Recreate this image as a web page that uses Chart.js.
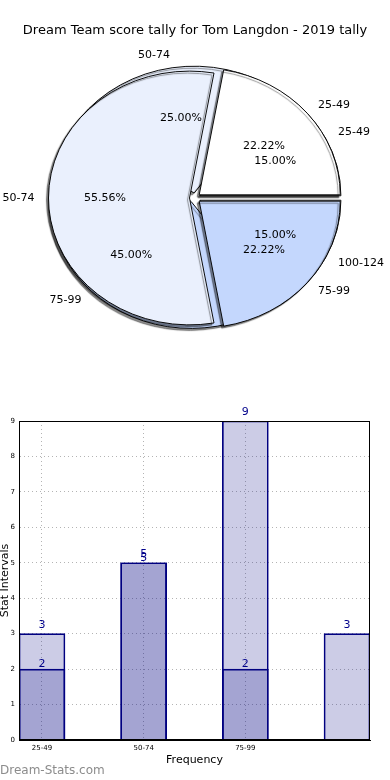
<!DOCTYPE html>
<html>
<head>
<meta charset="utf-8">
<script src="https://cdn.jsdelivr.net/npm/chart.js@4.4.1/dist/chart.umd.min.js"></script>
<style>
  body { margin: 0; background: #fff; }
  #wrap { position: relative; width: 390px; height: 780px; overflow: hidden; font-family: 'DejaVu Sans', sans-serif; }
  #wrap canvas { position: absolute; left: 0; }
  #title { position: absolute; top: 21px; left: 0; width: 390px; text-align: center; font-size: 13px; line-height: 18px; color: #000; }
  #mark { position: absolute; top: 762px; left: 0; font-size: 12px; line-height: 16px; color: #8c8c8c; }
</style>
</head>
<body>
<div id="wrap">
  <canvas id="pieB" width="390" height="396" style="top:0"></canvas>
  <canvas id="pieA" width="390" height="396" style="top:0"></canvas>
  <canvas id="bars" width="390" height="380" style="top:400px"></canvas>
  <div id="title">Dream Team score tally for Tom Langdon - 2019 tally</div>
  <div id="mark">Dream-Stats.com</div>
</div>
<script>
// data
let categories = ['25-49', '50-74', '75-99', '100-124'];
let tallyA = [2, 5, 2];        // first pie (on top) and first bar series
let tallyB = [3, 5, 9, 3];     // second pie (underneath) and second bar series
let xTickLabels = ['25-49', '50-74', '75-99'];

let pieColors = ['#ffffff', '#eaf0fd', '#c4d7fd', '#ffffff'];
let squash = 0.9;   // the pie in the picture is an ellipse
let explode = 5.5;  // px each wedge is pushed out

Chart.defaults.font.family = 'DejaVu Sans';
Chart.defaults.color = '#000';

// matplotlib goes counter-clockwise from 3 o'clock, chart.js clockwise: feed reversed
function rev(a) { return a.slice().reverse(); }

let ellipse = {
    id: 'ellipse',
    beforeDatasetsDraw(chart) {
        let ctx = chart.ctx;
        let cy = (chart.chartArea.top + chart.chartArea.bottom) / 2;
        // push every wedge out along its middle angle, like matplotlib's explode
        chart.getDatasetMeta(0).data.forEach(el => {
            if (el._exploded) return;
            el._exploded = true;
            let draw = el.draw;
            el.draw = function (c, area) {
                let mid = (this.startAngle + this.endAngle) / 2;
                c.save();
                c.translate(Math.cos(mid) * explode, Math.sin(mid) * explode);
                draw.call(this, c, area);
                c.restore();
            };
        });
        ctx.save();
        ctx.translate(0, cy);
        ctx.scale(1, squash);
        ctx.translate(0, -cy);
        ctx.shadowColor = 'rgba(0,0,0,0.45)';
        ctx.shadowOffsetX = -2;
        ctx.shadowOffsetY = 2;
        ctx.shadowBlur = 1;
    },
    afterDatasetsDraw(chart) {
        chart.ctx.restore();
    }
};

function pieConfig(values, extra) {
    let n = values.length;
    return {
        type: 'pie',
        data: {
            labels: rev(categories.slice(0, n)),
            datasets: [{
                data: rev(values),
                backgroundColor: rev(pieColors.slice(0, n)),
                borderColor: '#000',
                borderWidth: 1
            }]
        },
        options: {
            responsive: false,
            animation: false,
            radius: 141,
            rotation: 90,
            events: [],
            plugins: { legend: { display: false }, tooltip: { enabled: false } }
        },
        plugins: [ellipse].concat(extra || [])
    };
}

let pieText = {
    id: 'pieText',
    afterDraw(chart) {
        let ctx = chart.ctx;
        ctx.save();
        ctx.font = '11px "DejaVu Sans"';
        ctx.fillStyle = '#000';
        [Chart.getChart('pieB'), chart].forEach(c => {
            let meta = c.getDatasetMeta(0);
            let vals = c.data.datasets[0].data;
            let labs = c.data.labels;
            let total = vals.reduce((s, v) => s + v, 0);
            meta.data.forEach((el, i) => {
                let mid = (el.startAngle + el.endAngle) / 2;
                let R = el.outerRadius;
                let dx = Math.cos(mid), dy = Math.sin(mid);
                let r1 = explode + 0.6 * R;
                ctx.textAlign = 'center';
                ctx.textBaseline = 'middle';
                ctx.fillText((vals[i] / total * 100).toFixed(2) + '%', el.x + dx * r1, el.y + squash * dy * r1);
                let r2 = explode + 1.1 * R;
                ctx.textAlign = dx >= 0 ? 'left' : 'right';
                ctx.fillText(labs[i], el.x + dx * r2, el.y + squash * dy * r2);
            });
        });
        ctx.restore();
    }
};

new Chart(document.getElementById('pieB'), pieConfig(tallyB));
new Chart(document.getElementById('pieA'), pieConfig(tallyA, [pieText]));

// bar chart
let frame = {
    id: 'frame',
    afterDatasetsDraw(chart) {
        let a = chart.chartArea, ctx = chart.ctx;
        ctx.save();
        ctx.strokeStyle = '#000';
        ctx.lineWidth = 1;
        ctx.strokeRect(Math.round(a.left) + 0.5, Math.round(a.top) + 0.5, Math.round(a.right - a.left) - 1, Math.round(a.bottom - a.top) - 1);
        ctx.restore();
    }
};

let barValues = {
    id: 'barValues',
    afterDatasetsDraw(chart) {
        let ctx = chart.ctx;
        ctx.save();
        ctx.font = '11px "DejaVu Sans"';
        ctx.fillStyle = '#00008b';
        ctx.textAlign = 'center';
        ctx.textBaseline = 'middle';
        chart.data.datasets.forEach((ds, d) => {
            let lift = d === 0 ? 5 : 9;
            chart.getDatasetMeta(d).data.forEach((el, i) => {
                let v = ds.data[i].y;
                if (v) ctx.fillText(String(v), el.x, el.y - lift);
            });
        });
        ctx.restore();
    }
};

let barFill = 'rgba(0, 0, 128, 0.2)';
let gridStyle = { color: '#b4b4b4', lineWidth: 1, drawTicks: false, offset: false };

new Chart(document.getElementById('bars'), {
    type: 'bar',
    data: {
        datasets: [
            { data: tallyA.map((v, i) => ({ x: i, y: v })), backgroundColor: barFill, borderColor: '#000080', borderWidth: 1, barThickness: 46, grouped: false },
            { data: tallyB.map((v, i) => ({ x: i, y: v })), backgroundColor: barFill, borderColor: '#000080', borderWidth: 1, barThickness: 46, grouped: false }
        ]
    },
    options: {
        responsive: false,
        animation: false,
        events: [],
        layout: { padding: { top: 21, right: 20, left: 0, bottom: 0 } },
        plugins: { legend: { display: false }, tooltip: { enabled: false } },
        scales: {
            x: {
                type: 'linear',
                offset: false,
                min: -0.226,
                max: 3.226,
                afterBuildTicks: s => { s.ticks = xTickLabels.map((t, i) => ({ value: i })); },
                afterFit: s => { s.height = 40; },
                ticks: { padding: 4, font: { size: 7 }, callback: v => xTickLabels[v], autoSkip: false, maxRotation: 0 },
                grid: gridStyle,
                border: { display: true, color: '#000', dash: [1, 3] },
                title: { display: true, text: 'Frequency', font: { size: 11 }, padding: { top: 0, bottom: 13 } }
            },
            y: {
                min: 0,
                max: 9,
                afterFit: s => { s.width = 19; },
                ticks: { stepSize: 1, padding: 4, font: { size: 7 } },
                grid: gridStyle,
                border: { display: true, color: '#000', dash: [1, 3] },
                title: { display: true, text: 'Stat Intervals', font: { size: 11, lineHeight: 0.9 }, padding: 0 }
            }
        }
    },
    plugins: [frame, barValues]
});
</script>
</body>
</html>
